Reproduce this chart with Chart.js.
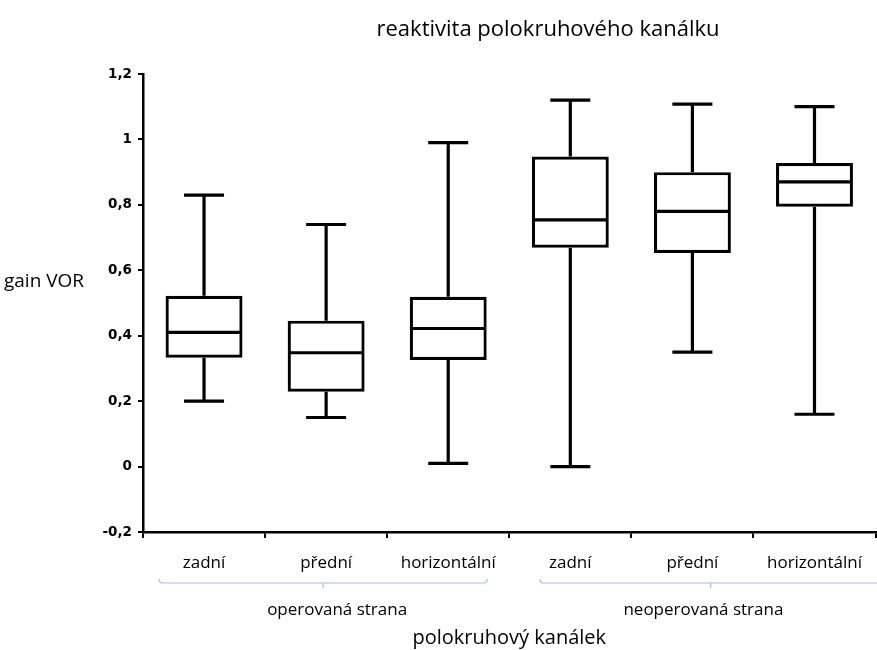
<!DOCTYPE html>
<html>
<head>
<meta charset="utf-8">
<script src="https://cdn.jsdelivr.net/npm/chart.js@4"></script>
<style>
  html, body { margin: 0; padding: 0; background: #fff; }
  #wrap { width: 877px; height: 650px; }
</style>
</head>
<body>
<div id="wrap"><canvas id="chart-vor"></canvas></div>
<script>
// kategorie a hodnoty
const categories = ['zadní', 'přední', 'horizontální', 'zadní', 'přední', 'horizontální'];
const mins    = [0.20, 0.15, 0.01, 0.00, 0.35, 0.16];
const q1      = [0.333, 0.229, 0.326, 0.669, 0.653, 0.794];
const medians = [0.41, 0.348, 0.422, 0.754, 0.78, 0.87];
const q3      = [0.522, 0.446, 0.519, 0.948, 0.90, 0.928];
const maxs    = [0.83, 0.74, 0.99, 1.12, 1.108, 1.10];

const groupLabels = ['operovaná strana', 'neoperovaná strana'];
const groupFrom = [0, 3];
const groupTo = [2, 5];

const yTicks = [-0.2, 0, 0.2, 0.4, 0.6, 0.8, 1, 1.2];

const FONT = '"Open Sans", "Noto Sans", sans-serif';

function fmt(v) {
  return String(Number(v.toFixed(1))).replace('.', ',');
}

// vousy, medián, závorky skupin a popisky
const boxExtras = {
  id: 'boxExtras',
  afterDatasetsDraw(chart) {
    const { ctx, scales: { y } } = chart;
    const meta = chart.getDatasetMeta(0);
    ctx.save();
    ctx.strokeStyle = '#000';
    ctx.lineWidth = 3.2;
    meta.data.forEach((bar, i) => {
      const cx = bar.x;
      const half = bar.width / 2;
      const cap = bar.width * 0.26;
      const yMin = y.getPixelForValue(mins[i]);
      const yMax = y.getPixelForValue(maxs[i]);
      const yQ1 = y.getPixelForValue(q1[i]);
      const yQ3 = y.getPixelForValue(q3[i]);
      const yMed = y.getPixelForValue(medians[i]);
      ctx.beginPath();
      ctx.moveTo(cx, yQ3); ctx.lineTo(cx, yMax);
      ctx.moveTo(cx, yQ1); ctx.lineTo(cx, yMin);
      ctx.moveTo(cx - cap, yMax); ctx.lineTo(cx + cap, yMax);
      ctx.moveTo(cx - cap, yMin); ctx.lineTo(cx + cap, yMin);
      ctx.moveTo(cx - half + 1.5, yMed); ctx.lineTo(cx + half - 1.5, yMed);
      ctx.stroke();
    });
    ctx.restore();
  },
  afterDraw(chart) {
    const { ctx, scales: { x } } = chart;
    ctx.save();
    // nadpis
    ctx.fillStyle = '#000';
    ctx.font = '22px ' + FONT;
    ctx.textAlign = 'center';
    ctx.textBaseline = 'middle';
    ctx.fillText('reaktivita polokruhového kanálku', 548, 30);
    // popisek osy y
    ctx.font = '19px ' + FONT;
    ctx.textAlign = 'left';
    ctx.fillText('gain VOR', 4, 282);

    // skupiny
    const step = x.getPixelForValue(1) - x.getPixelForValue(0);
    const by = 583;
    const leftExt = [0.37, 0.25];
    const rightExt = [0.32, 0.55];
    groupLabels.forEach((lab, g) => {
      const x0 = x.getPixelForValue(groupFrom[g]) - step * leftExt[g];
      const x1 = x.getPixelForValue(groupTo[g]) + step * rightExt[g];
      const xm = (x0 + x1) / 2;
      ctx.strokeStyle = '#a9bde6';
      ctx.lineWidth = 1.2;
      ctx.beginPath();
      ctx.moveTo(x0, by - 4);
      ctx.quadraticCurveTo(x0, by, x0 + 4, by);
      ctx.lineTo(x1 - 4, by);
      ctx.quadraticCurveTo(x1, by, x1, by - 4);
      ctx.moveTo(xm, by);
      ctx.lineTo(xm, by + 5);
      ctx.stroke();
      const cx = (x.getPixelForValue(groupFrom[g]) + x.getPixelForValue(groupTo[g])) / 2;
      ctx.fillStyle = '#000';
      ctx.font = '17px ' + FONT;
      ctx.textAlign = 'center';
      ctx.fillText(lab, cx + 11, 610);
    });
    ctx.restore();
  }
};

new Chart(document.getElementById('chart-vor'), {
  type: 'bar',
  data: {
    labels: categories,
    datasets: [{
      label: 'gain VOR',
      data: q1.map((v, i) => [v, q3[i]]),
      backgroundColor: '#fff',
      borderColor: '#000',
      borderWidth: 3.2,
      borderSkipped: false,
      barPercentage: 0.63,
      categoryPercentage: 1
    }]
  },
  options: {
    responsive: true,
    maintainAspectRatio: false,
    animation: false,
    layout: { padding: { left: 100, top: 74, right: 0, bottom: 0 } },
    plugins: {
      legend: { display: false },
      tooltip: { enabled: false }
    },
    scales: {
      x: {
        offset: true,
        grid: {
          offset: true,
          drawOnChartArea: false,
          drawTicks: true,
          tickLength: 6,
          color: '#000',
          lineWidth: 2
        },
        border: { display: true, color: '#000', width: 2.5 },
        ticks: {
          color: '#000',
          font: { family: FONT, size: 17 },
          padding: 15,
          maxRotation: 0
        },
        title: {
          display: true,
          text: 'polokruhový kanálek',
          color: '#000',
          font: { family: FONT, size: 20 },
          padding: { top: 0, bottom: 0 }
        },
        afterFit(scale) { scale.height = 118; }
      },
      y: {
        min: -0.2,
        max: 1.2,
        afterBuildTicks(scale) { scale.ticks = yTicks.map(v => ({ value: v })); },
        grid: {
          drawOnChartArea: false,
          drawTicks: true,
          tickLength: 5,
          color: '#000',
          lineWidth: 2
        },
        border: { display: true, color: '#000', width: 2.5 },
        ticks: {
          color: '#000',
          font: { family: '"DejaVu Sans", sans-serif', size: 13.5, weight: 'bold' },
          padding: 6,
          callback: v => fmt(v)
        },
        afterFit(scale) { scale.width = 43; }
      }
    }
  },
  plugins: [boxExtras]
});
</script>
</body>
</html>
